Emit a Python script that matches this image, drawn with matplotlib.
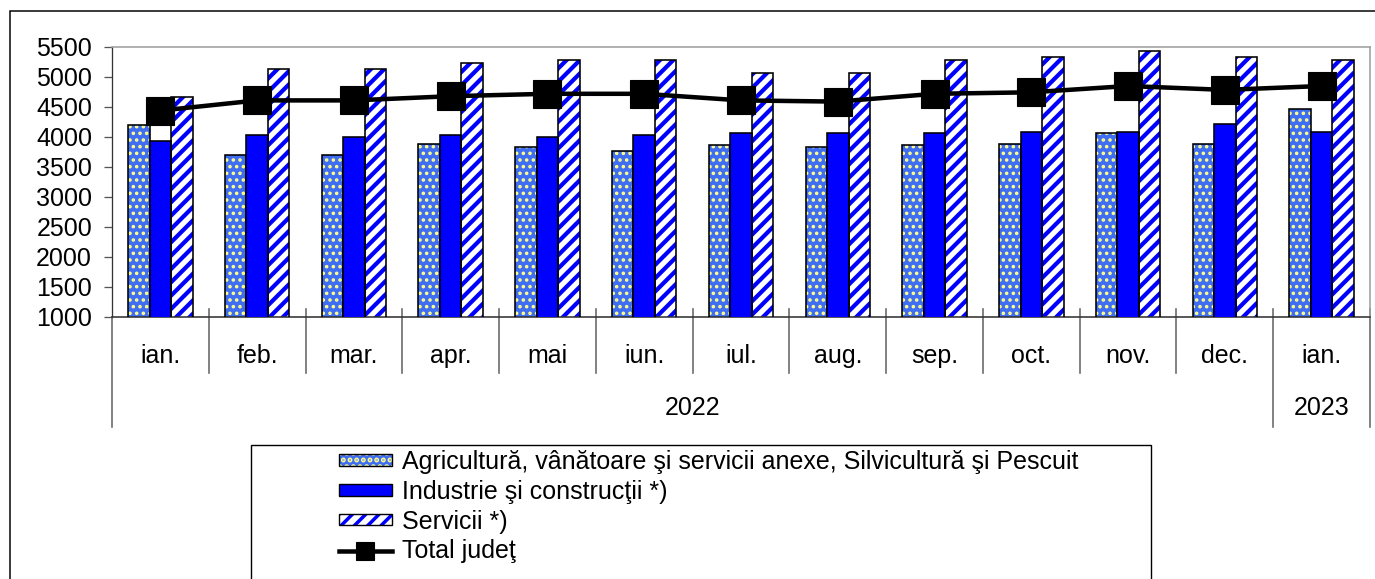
"""Castigul salarial pe activitati economice, ian. 2022 - ian. 2023 (bare + linie total)."""
from __future__ import annotations

import numpy as np
import matplotlib
matplotlib.use("Agg")
import matplotlib.pyplot as plt
from matplotlib.patches import Patch, Rectangle
from matplotlib.lines import Line2D
from matplotlib.transforms import blended_transform_factory


# --- date ---
luni = ["ian.", "feb.", "mar.", "apr.", "mai", "iun.", "iul.", "aug.",
        "sep.", "oct.", "nov.", "dec.", "ian."]
ani = ["2022", "2023"]
luni_pe_an = [12, 1]

agricultura = [4200, 3700, 3700, 3890, 3830, 3760, 3860, 3830, 3860, 3890, 4060, 3890, 4460]
industrie = [3930, 4030, 4000, 4030, 4000, 4030, 4060, 4060, 4060, 4090, 4090, 4220, 4090]
servicii = [4660, 5130, 5130, 5230, 5290, 5290, 5060, 5060, 5290, 5330, 5430, 5330, 5290]
total = [4440, 4610, 4610, 4680, 4720, 4720, 4610, 4590, 4720, 4745, 4850, 4785, 4850]

etichete = [
    "Agricultură, vânătoare şi servicii anexe, Silvicultură şi Pescuit",
    "Industrie şi construcţii *)",
    "Servicii *)",
    "Total judeţ",
]

W, H = 1375, 579
DPI = 80  # dpi mic ca hasura sa iasa mai rara


def pt(px: float) -> float:
    """pixeli -> puncte la DPI-ul ales"""
    return px * 72 / DPI


def fx(px: float) -> float:
    return px / W


def fy(py: float) -> float:
    return 1 - py / H


def bare_hasurate(ax, x, h, width, face, hatch_col, hatch, hlw):
    """Bare cu hasura colorata + contur negru separat (culoarea hasurii = edgecolor)."""
    with plt.rc_context({"hatch.linewidth": hlw}):
        bars = ax.bar(x, h, width, bottom=0, color=face, edgecolor=hatch_col,
                      hatch=hatch, linewidth=0, zorder=2)
        p1 = Patch(facecolor=face, edgecolor=hatch_col, hatch=hatch, linewidth=0)
    for b in list(bars) + [p1]:
        if hasattr(b, "set_hatch_linewidth"):
            b.set_hatch_linewidth(hlw)
    ax.bar(x, h, width, bottom=0, fill=False, edgecolor="black", linewidth=pt(1.6), zorder=3)
    p2 = Patch(fill=False, edgecolor="black", linewidth=pt(1.4))
    return (p1, p2)


def main() -> int:
    plt.rcParams["font.family"] = ["Liberation Sans", "DejaVu Sans"]
    plt.rcParams["font.size"] = pt(25)

    fig = plt.figure(figsize=(W / DPI, H / DPI), dpi=DPI)
    ax = fig.add_axes([fx(112), fy(317), fx(1370) - fx(112), fy(47) - fy(317)])

    x = np.arange(len(luni))
    w = 0.222

    h_agri = bare_hasurate(ax, x - w, agricultura, w, "#3F6EF2", "#FFFF8C", "..", pt(2.2))
    ax.bar(x, industrie, w, color="#0000FF", edgecolor="black", linewidth=pt(1.6), zorder=3)
    h_ind = Patch(facecolor="#0000FF", edgecolor="black", linewidth=pt(1.4))
    h_serv = bare_hasurate(ax, x + w, servicii, w, "white", "#0000FF", "//", pt(4.2))

    ax.plot(x, total, color="black", linewidth=pt(4.5), marker="s", markersize=pt(28),
            zorder=5, solid_joinstyle="round")
    h_tot = Line2D([], [], color="black", linewidth=pt(4.5), marker="s", markersize=pt(18))

    ax.set_xlim(-0.5, len(luni) - 0.5)
    ax.set_ylim(1000, 5500)
    ax.set_yticks(np.arange(1000, 5501, 500))
    ax.tick_params(axis="y", length=pt(8), width=pt(1.3), color="#555555", pad=pt(12))
    ax.set_xticks([])

    for s in ("top", "right"):
        ax.spines[s].set_color("#A0A0A0")
        ax.spines[s].set_linewidth(pt(1.6))
    ax.spines["left"].set_color("#333333")
    ax.spines["bottom"].set_color("#333333")
    ax.spines["left"].set_linewidth(pt(1.3))
    ax.spines["bottom"].set_linewidth(pt(1.6))

    # axa de categorii pe doua nivele
    tr = blended_transform_factory(ax.transData, ax.transAxes)
    capete = np.cumsum([0] + luni_pe_an) - 0.5
    for b in np.arange(0.5, len(luni) - 0.5):
        if b in capete:
            continue
        ax.plot([b, b], [0.03, -0.207], transform=tr, color="#666666", lw=pt(1.6),
                clip_on=False)
    for b in capete:
        ax.plot([b, b], [0.03 if b > -0.5 else 0, -0.407], transform=tr,
                color="#666666", lw=pt(1.6), clip_on=False)
    for xi, lab in zip(x, luni):
        ax.text(xi, -0.143, lab, transform=tr, ha="center", va="center")
    for i, an in enumerate(ani):
        centru = (capete[i] + capete[i + 1]) / 2
        ax.text(centru, -0.337, an, transform=tr, ha="center", va="center")

    # chenar figura si chenar legenda
    fig.patches.append(Rectangle((fx(10), fy(H + 5)), 1.2, fy(11) - fy(H + 5),
                                 transform=fig.transFigure, fill=False,
                                 edgecolor="black", linewidth=pt(1.5)))
    fig.patches.append(Rectangle((fx(251), fy(H + 5)), fx(1151) - fx(251),
                                 fy(445) - fy(H + 5), transform=fig.transFigure,
                                 fill=False, edgecolor="black", linewidth=pt(1.4)))

    # patch-urile legendei se creeaza aici, deci hasura groasa le prinde
    with plt.rc_context({"hatch.linewidth": pt(3.5)}):
        fig.legend([h_agri, h_ind, h_serv, h_tot], etichete, loc="upper left",
                   bbox_to_anchor=(fx(339), fy(450)), frameon=False, borderpad=0,
                   borderaxespad=0, handlelength=2.1, handleheight=0.35,
                   handletextpad=0.4, labelspacing=0.23)

    fig.savefig("out.png", dpi=DPI)
    return 0


if __name__ == "__main__":
    raise SystemExit(main())
